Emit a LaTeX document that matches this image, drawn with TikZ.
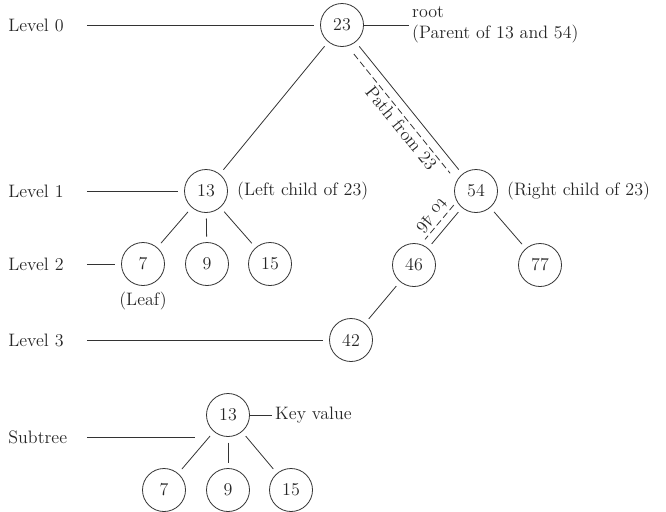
\documentclass[tikz,border=0pt]{standalone}
\usetikzlibrary{positioning, calc}

\begin{document}
\begin{tikzpicture}[
  x=0.75pt, y=0.75pt,
  line width=0.6pt, draw=black!80,
  font=\fontsize{13.5}{16}\selectfont,
  every node/.style={text=black!85},
  key/.style={draw, circle, minimum size=32.25pt, inner sep=0pt, outer sep=0pt},
  lvl/.style={anchor=west, inner sep=0pt, text width=58.5pt, align=left},
  note/.style={inner sep=2.5pt, align=left},
  link/.style={shorten <=4.5pt, shorten >=4.5pt},
  guide/.style={shorten >=5pt},
  trail/.style={dash pattern=on 5pt off 2.5pt},
  trailtxt/.style={sloped, below, inner sep=2pt}
]
  \useasboundingbox (0,0) rectangle (666,-511);

  % main tree
  \node[key] (n23) at (342,-25)  {23};
  \node[key] (n13) at (206,-191) {13};
  \node[key] (n54) at (476,-191) {54};
  \node[key] (n7)  at (143,-264) {7};
  \node[key] (n9)  at (207,-264) {9};
  \node[key] (n15) at (270,-264) {15};
  \node[key] (n46) at (414,-265) {46};
  \node[key] (n77) at (540,-265) {77};
  \node[key] (n42) at (351,-340) {42};

  \draw[link] (n23) -- (n13);
  \draw[link] (n23) -- (n54);
  \draw[link] (n13) -- (n7);
  \draw[link] (n13) -- (n9);
  \draw[link] (n13) -- (n15);
  \draw[link] (n54) -- (n46);
  \draw[link] (n54) -- (n77);
  \draw[link] (n46) -- (n42);

  % level guides
  \node[lvl] (lv0) at (8,-25)  {Level 0};
  \node[lvl] (lv1) at (8,-191) {Level 1};
  \node[lvl] (lv2) at (8,-264) {Level 2};
  \node[lvl] (lv3) at (8,-340) {Level 3};

  \draw[guide] (lv0.east) -- (n23);
  \draw[guide] (lv1.east) -- (n13);
  \draw[guide] (lv2.east) -- (n7);
  \draw[guide] (lv3.east) -- (n42);

  % notes
  \node[note, right=33.75pt of n23] (root) {root\\(Parent of 13 and 54)};
  \draw (n23.east) -- (root.west);

  \node[note, right=4.5pt of n13] (lchild) {(Left child of 23)};
  \node[note, right=4.5pt of n54] (rchild) {(Right child of 23)};
  \node[note, below=2pt of n7] (leaf) {(Leaf)};

  % path from 23 to 46
  \draw[trail] ($(n23)!22.5pt!(n54)!6.75pt!-90:(n54)$)
    -- node[trailtxt, pos=0.57]{Path from 23} ($(n54)!22.5pt!(n23)!6.75pt!90:(n23)$);
  \draw[trail] ($(n54)!18.75pt!(n46)!6pt!-90:(n46)$)
    -- node[trailtxt, pos=0.5, allow upside down]{to 46} ($(n46)!20pt!(n54)!6pt!90:(n54)$);

  % subtree
  \node[key] (s13) at (228,-415) {13};
  \node[key] (s7)  at (164,-490) {7};
  \node[key] (s9)  at (228,-490) {9};
  \node[key] (s15) at (291,-490) {15};

  \draw[link] (s13) -- (s7);
  \draw[link] (s13) -- (s9);
  \draw[link] (s13) -- (s15);

  \node[note, right=16.5pt of s13] (keyval) {Key value};
  \draw (s13.east) -- (keyval.west);

  \node[lvl] (sub) at (8,-437) {Subtree};
  \coordinate (subend) at (195,-437);
  \draw (sub.east) -- (subend);
\end{tikzpicture}
\end{document}
